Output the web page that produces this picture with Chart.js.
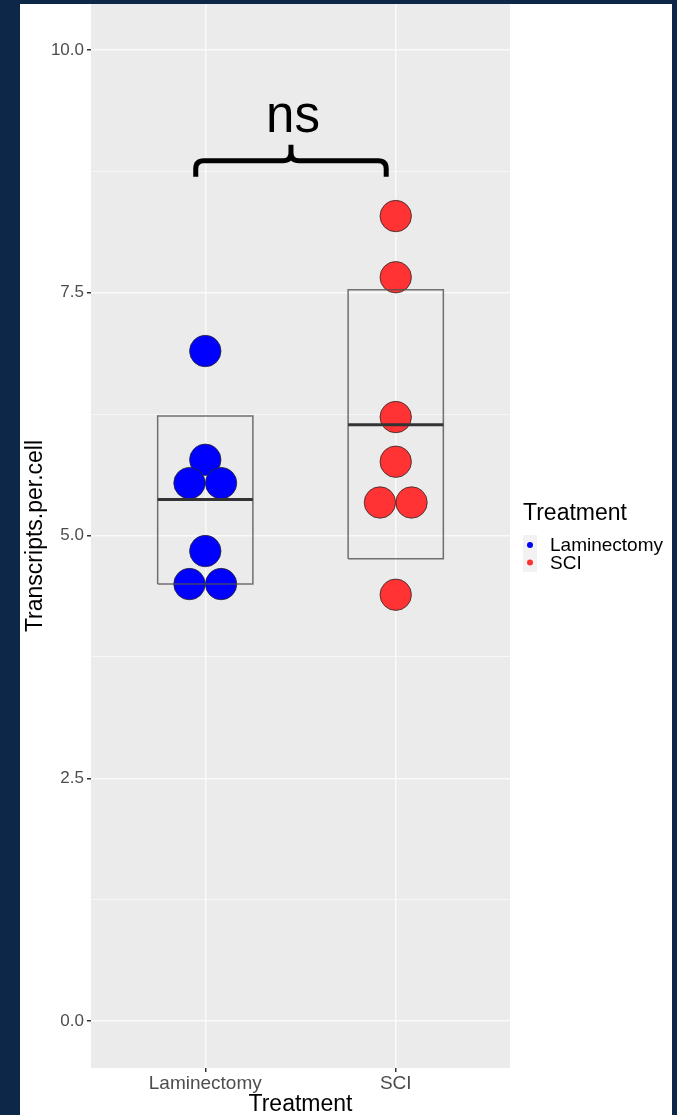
<!DOCTYPE html>
<html>
<head>
<meta charset="utf-8">
<script src="https://cdn.jsdelivr.net/npm/chart.js@4.4.1/dist/chart.umd.min.js"></script>
<style>
    html, body { margin: 0; padding: 0; }
    body { width: 677px; height: 1115px; background: #0d2749; position: relative; overflow: hidden; }
    #wrap { position: absolute; left: 20px; top: 4px; width: 652px; height: 1111px; background: #ffffff; }
</style>
</head>
<body>
<div id="wrap"><canvas id="dotChart" width="652" height="1111"></canvas></div>
<script>
// valores
const treatments = ['Laminectomy', 'SCI'];
const laminectomyValues = [6.90, 5.78, 5.54, 5.54, 4.84, 4.50, 4.50];
const sciValues = [8.29, 7.66, 6.22, 5.76, 5.34, 5.34, 4.39];
// caixa = média +/- desvio padrão
const boxMean = [5.37, 6.14];
const boxLow = [4.50, 4.76];
const boxHigh = [6.23, 7.53];
const yTicks = [0, 2.5, 5, 7.5, 10];
const nsLabel = 'ns';
const nsBracket = [0.95, 1.95]; // de / até (eixo x)
const nsBracketY = 8.86;

const colors = ['#0000ff', '#ff3333'];
const DOT_WIDTH = 0.166;
const BOX_HALF = 0.25;
const sans = "'Liberation Sans', Arial, sans-serif";

// empilha pontos com o mesmo valor lado a lado (como geom_dotplot)
function stackDots(values, center) {
    const counts = {};
    values.forEach(v => { counts[v] = (counts[v] || 0) + 1; });
    const seen = {};
    return values.map(v => {
        const i = seen[v] || 0;
        seen[v] = i + 1;
        return { x: center + (i - (counts[v] - 1) / 2) * DOT_WIDTH, y: v };
    });
}

function boxRect(i) {
    const c = i + 1;
    return [
        { x: c - BOX_HALF, y: boxLow[i] }, { x: c - BOX_HALF, y: boxHigh[i] },
        { x: c + BOX_HALF, y: boxHigh[i] }, { x: c + BOX_HALF, y: boxLow[i] },
        { x: c - BOX_HALF, y: boxLow[i] }
    ];
}

function meanLine(i) {
    const c = i + 1;
    return [{ x: c - BOX_HALF, y: boxMean[i] }, { x: c + BOX_HALF, y: boxMean[i] }];
}

const datasets = [];
treatments.forEach((t, i) => {
    datasets.push({ label: t + ' mean', data: meanLine(i), showLine: true, borderColor: '#333333', borderWidth: 3, pointRadius: 0 });
    datasets.push({ label: t + ' box', data: boxRect(i), showLine: true, borderColor: 'rgba(80,80,80,0.8)', borderWidth: 1.5, pointRadius: 0 });
});
[laminectomyValues, sciValues].forEach((vals, i) => {
    datasets.push({
        label: treatments[i],
        data: stackDots(vals, i + 1),
        backgroundColor: colors[i],
        borderColor: 'rgba(40,40,40,0.8)',
        borderWidth: 1,
        pointRadius: 15.7,
        pointHoverRadius: 15.7
    });
});

const ggPlugin = {
    id: 'ggPlugin',
    beforeDraw(chart) {
        const { ctx, chartArea: a } = chart;
        ctx.save();
        ctx.fillStyle = '#ebebeb';
        ctx.fillRect(a.left, a.top, a.right - a.left, a.bottom - a.top);
        ctx.restore();
    },
    afterDraw(chart) {
        const { ctx, chartArea: a, scales } = chart;
        const x = scales.x, y = scales.y;

        // chave "ns"
        const xl = x.getPixelForValue(nsBracket[0]);
        const xr = x.getPixelForValue(nsBracket[1]);
        const xc = (xl + xr) / 2;
        const hy = y.getPixelForValue(nsBracketY);
        const r = 8;
        ctx.save();
        ctx.strokeStyle = '#000';
        ctx.lineWidth = 5;
        ctx.lineJoin = 'round';
        ctx.beginPath();
        ctx.moveTo(xl, hy + 16);
        ctx.lineTo(xl, hy + r);
        ctx.quadraticCurveTo(xl, hy, xl + r, hy);
        ctx.lineTo(xc - r, hy);
        ctx.quadraticCurveTo(xc, hy, xc, hy - r);
        ctx.lineTo(xc, hy - 16);
        ctx.moveTo(xc, hy - r);
        ctx.quadraticCurveTo(xc, hy, xc + r, hy);
        ctx.lineTo(xr - r, hy);
        ctx.quadraticCurveTo(xr, hy, xr, hy + r);
        ctx.lineTo(xr, hy + 16);
        ctx.stroke();

        ctx.fillStyle = '#000';
        ctx.font = "51px 'Liberation Sans Narrow', 'Liberation Sans', sans-serif";
        ctx.textAlign = 'center';
        ctx.textBaseline = 'alphabetic';
        ctx.fillText(nsLabel, xc + 2, hy - 29);

        // legenda
        const lx = a.right + 13;
        const cy = (a.top + a.bottom) / 2;
        ctx.textAlign = 'left';
        ctx.fillStyle = '#000';
        ctx.font = '23px ' + sans;
        ctx.fillText('Treatment', lx, cy - 16);
        ctx.fillStyle = '#f2f2f2';
        ctx.fillRect(lx, cy - 1, 14, 37);
        treatments.forEach((t, i) => {
            const ky = cy + 9 + i * 17.5;
            ctx.beginPath();
            ctx.arc(lx + 7, ky, 3, 0, Math.PI * 2);
            ctx.fillStyle = colors[i];
            ctx.fill();
            ctx.fillStyle = '#000';
            ctx.font = '19px ' + sans;
            ctx.textBaseline = 'middle';
            ctx.fillText(t, lx + 27, ky + 1);
        });
        ctx.restore();
    }
};

const minorTicks = yTicks.slice(1).map((v, i) => (v + yTicks[i]) / 2);
const isMajor = v => yTicks.includes(v);

new Chart(document.getElementById('dotChart'), {
    type: 'scatter',
    data: { datasets: datasets },
    options: {
        responsive: false,
        animation: false,
        layout: { autoPadding: false, padding: { top: 0, right: 162, left: 0, bottom: 0 } },
        plugins: { legend: { display: false }, tooltip: { enabled: false } },
        scales: {
            x: {
                type: 'linear',
                min: 0.4,
                max: 2.6,
                afterBuildTicks: s => { s.ticks = treatments.map((_, i) => ({ value: i + 1 })); },
                afterFit: s => { s.height = 47; s.paddingLeft = 0; s.paddingRight = 0; },
                ticks: {
                    autoSkip: false,
                    maxRotation: 0,
                    padding: 0,
                    color: '#4d4d4d',
                    font: { family: sans, size: 19 },
                    callback: v => treatments[Math.round(v) - 1] || ''
                },
                grid: { color: '#fafafa', lineWidth: 1.5, tickLength: 4, tickColor: '#333333' },
                border: { display: false },
                title: { display: true, text: 'Treatment', color: '#000', font: { family: sans, size: 23 }, padding: { top: 0, bottom: -3 } }
            },
            y: {
                min: -0.484,
                max: 10.474,
                afterBuildTicks: s => {
                    s.ticks = yTicks.concat(minorTicks).sort((p, q) => p - q).map(v => ({ value: v }));
                },
                afterFit: s => { s.width = 71; s.paddingTop = 0; s.paddingBottom = 0; },
                ticks: {
                    autoSkip: false,
                    padding: 3,
                    color: '#4d4d4d',
                    font: { family: sans, size: 17 },
                    callback: v => isMajor(v) ? v.toFixed(1) : ''
                },
                grid: {
                    color: '#fafafa',
                    lineWidth: c => isMajor(c.tick.value) ? 1.5 : 0.8,
                    tickLength: 4,
                    tickColor: c => isMajor(c.tick.value) ? '#333333' : 'rgba(0,0,0,0)'
                },
                border: { display: false },
                title: { display: true, text: 'Transcripts.per.cell', color: '#000', font: { family: sans, size: 23 }, padding: { top: 2, bottom: 0 } }
            }
        }
    },
    plugins: [ggPlugin]
});
</script>
</body>
</html>
